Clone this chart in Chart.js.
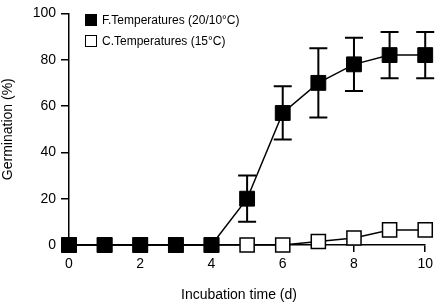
<!DOCTYPE html>
<html>
<head>
<meta charset="utf-8">
<script src="https://cdn.jsdelivr.net/npm/chart.js@4"></script>
<style>
  html, body { margin: 0; padding: 0; background: #fff; }
  #wrap { width: 437px; height: 304px; }
</style>
</head>
<body>
<div id="wrap"><canvas id="chart"></canvas></div>
<script>
// days of incubation
var days = [0, 1, 2, 3, 4, 5, 6, 7, 8, 9, 10];
var labels = ["F.Temperatures (20/10°C)", "C.Temperatures (15°C)"];
var fluct = [0, 0, 0, 0, 0, 20, 57, 70, 78, 82, 82];
var fluctErr = [0, 0, 0, 0, 0, 10, 11.5, 15, 11.5, 10, 10];
var constant = [0, 0, 0, 0, 0, 0, 0, 1.5, 3, 6.5, 6.5];
var xTicks = [0, 2, 4, 6, 8, 10];
var yTicks = [0, 20, 40, 60, 80, 100];
var xTitle = "Incubation time (d)";
var FONT = "'Liberation Sans', Arial, sans-serif";

function pts(ys) {
  return days.map(function (d, i) { return { x: d, y: ys[i] }; });
}

const errorBars = {
  id: "errorBars",
  beforeDatasetsDraw: function (chart) {
    const ctx = chart.ctx;
    const xs = chart.scales.x, ys = chart.scales.y;
    ctx.save();
    ctx.strokeStyle = "#000";
    ctx.lineWidth = 2;
    fluct.forEach(function (v, i) {
      const e = fluctErr[i];
      if (!e) return;
      const px = xs.getPixelForValue(days[i]);
      const top = ys.getPixelForValue(v + e);
      const bot = ys.getPixelForValue(v - e);
      ctx.beginPath();
      ctx.moveTo(px, top); ctx.lineTo(px, bot);
      ctx.moveTo(px - 9, top); ctx.lineTo(px + 9, top);
      ctx.moveTo(px - 9, bot); ctx.lineTo(px + 9, bot);
      ctx.stroke();
    });
    ctx.restore();
  }
};

// legend inside the plot + x axis title (sits a bit left of centre in the original)
const extras = {
  id: "extras",
  afterDraw: function (chart) {
    const ctx = chart.ctx;
    ctx.save();
    ctx.font = "12px " + FONT;
    ctx.textBaseline = "middle";
    const fills = ["#000", "#fff"];
    labels.forEach(function (t, i) {
      const cy = 20 + i * 21;
      ctx.fillStyle = fills[i];
      ctx.fillRect(85, cy - 6, 12, 12);
      ctx.strokeStyle = "#000";
      ctx.lineWidth = 1;
      ctx.strokeRect(85.5, cy - 5.5, 11, 11);
      ctx.fillStyle = "#000";
      ctx.fillText(t, 102, cy + 1);
    });
    ctx.font = "14px " + FONT;
    ctx.textAlign = "center";
    ctx.fillText(xTitle, 239, 295);
    ctx.restore();
  }
};

new Chart(document.getElementById("chart"), {
  type: "line",
  data: {
    datasets: [
      {
        label: labels[0],
        data: pts(fluct),
        borderColor: "#000",
        borderWidth: 1.5,
        backgroundColor: "#000",
        pointStyle: "rect",
        pointRadius: 10.5,
        pointBorderWidth: 1,
        pointBorderColor: "#000",
        pointBackgroundColor: "#000",
        clip: false
      },
      {
        label: labels[1],
        data: pts(constant),
        borderColor: "#000",
        borderWidth: 1.5,
        backgroundColor: "#fff",
        pointStyle: "rect",
        pointRadius: 10,
        pointBorderWidth: 1.5,
        pointBorderColor: "#000",
        pointBackgroundColor: "#fff",
        clip: false
      }
    ]
  },
  options: {
    responsive: true,
    maintainAspectRatio: false,
    animation: false,
    events: [],
    layout: { padding: { top: 6, right: 9, left: 0, bottom: 0 } },
    plugins: {
      legend: { display: false },
      tooltip: { enabled: false }
    },
    scales: {
      x: {
        type: "linear",
        min: 0,
        max: 10,
        afterFit: function (s) { s.height = 59; },
        afterBuildTicks: function (s) { s.ticks = xTicks.map(function (v) { return { value: v }; }); },
        border: { display: true, color: "#000", width: 1.5 },
        grid: { display: true, drawOnChartArea: false, color: "#000", lineWidth: 1.5, tickLength: 7 },
        ticks: {
          color: "#000",
          padding: 4,
          maxRotation: 0,
          font: { family: FONT, size: 14 }
        }
      },
      y: {
        min: 0,
        max: 100,
        afterFit: function (s) { s.width = 69; },
        afterBuildTicks: function (s) { s.ticks = yTicks.map(function (v) { return { value: v }; }); },
        border: { display: true, color: "#000", width: 1.5 },
        grid: { display: true, drawOnChartArea: false, color: "#000", lineWidth: 1.5, tickLength: 8 },
        ticks: {
          color: "#000",
          padding: 5,
          font: { family: FONT, size: 14 }
        },
        title: {
          display: true,
          text: "Germination (%)",
          color: "#000",
          padding: { top: 0, bottom: 2 },
          font: { family: FONT, size: 14 }
        }
      }
    }
  },
  plugins: [errorBars, extras]
});
</script>
</body>
</html>
